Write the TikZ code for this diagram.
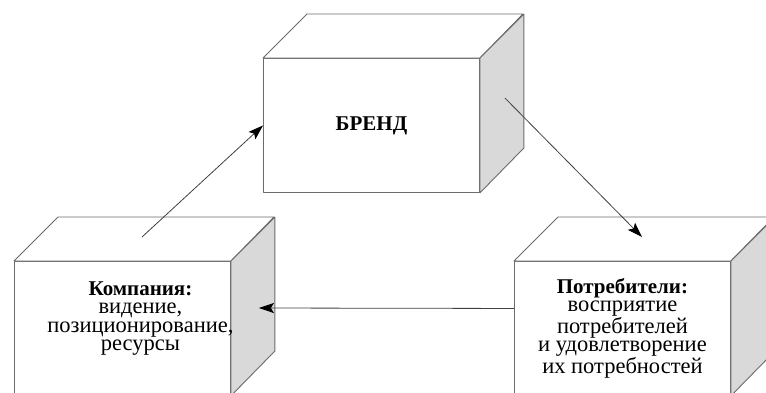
\documentclass[tikz,border=0pt]{standalone}
\usepackage{fontspec}
\setmainfont{Liberation Serif}
\usetikzlibrary{arrows.meta,positioning}
\definecolor{edgegray}{gray}{0.42}
\definecolor{sidegray}{gray}{0.85}
\definecolor{arrowgray}{gray}{0.25}
\newcommand{\head}[1]{{\fontsize{21}{18.3}\selectfont\bfseries #1}}
\tikzset{
  face/.style={draw=edgegray,line width=0.9pt,line join=round},
  front/.style={face,fill=white,minimum width=216pt,minimum height=134pt,inner sep=0pt,anchor=north west},
  txt/.style={align=center,font=\fontsize{22.5}{18.3}\selectfont,inner sep=0pt},
  link/.style={draw=arrowgray,line width=0.8pt,-{Stealth[length=15pt,width=10pt,inset=3pt,color=black]}}
}
\newcommand{\Block}[4][0,0]% text shift, pos, name, text
{\node[front] (#3) at (#2) {};
  \draw[face,fill=white] (#3.north west) -- ++(44,-44) -- ++(216,0) -- (#3.north east) -- cycle;
  \draw[face,fill=sidegray] (#3.north east) -- ++(44,-44) -- ++(0,134) -- (#3.south east) -- cycle;
  \node[txt] at ([shift={(#1)}]#3.center) {#4};
}

\begin{document}
\begin{tikzpicture}[x=1pt,y=-1pt]
  \useasboundingbox (0,0) rectangle (766,392);
  \Block{263,58}{brand}{\head{БРЕНД}}
  \Block[18,-10]{14,261}{company}{\head{Компания:}\\видение,\\позиционирование,\\ресурсы}
  \Block{514,261}{clients}{\head{Потребители:}\\восприятие\\потребителей\\и удовлетворение\\их потребностей}
  % free ends of the arrows
  \coordinate (company top) at ([shift={(128,-24)}]company.north west);
  \coordinate (company side) at ([shift={(28,47)}]company.north east);
  \coordinate (brand side) at ([shift={(25,40)}]brand.north east);
  \coordinate (clients top) at ([shift={(128,-24)}]clients.north west);
  \coordinate (clients in) at ([shift={(0,-20)}]clients.west);
  \draw[link] (company top) -- (brand.west);
  \draw[link] (brand side) -- (clients top);
  \draw[link] (clients in) -- (company side);
\end{tikzpicture}
\end{document}
